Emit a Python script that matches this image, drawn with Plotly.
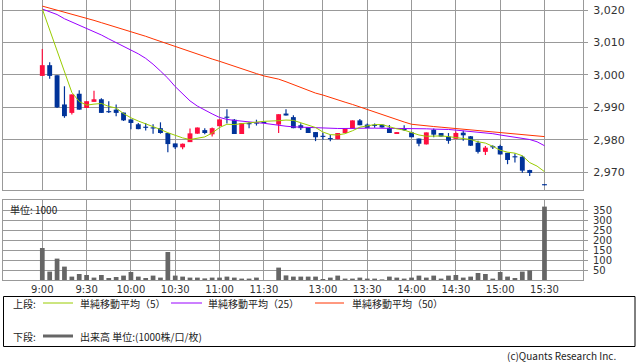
import plotly.graph_objects as go

# ---------------- data ----------------
times = ["9:00", "9:05", "9:10", "9:15", "9:20", "9:25", "9:30", "9:35", "9:40", "9:45",
         "9:50", "9:55", "10:00", "10:05", "10:10", "10:15", "10:20", "10:25", "10:30", "10:35",
         "10:40", "10:45", "10:50", "10:55", "11:00", "11:05", "11:10", "11:15", "11:20", "11:25",
         "11:30", "", "12:30", "12:35", "12:40", "12:45", "12:50", "12:55", "13:00", "13:05",
         "13:10", "13:15", "13:20", "13:25", "13:30", "13:35", "13:40", "13:45", "13:50", "13:55",
         "14:00", "14:05", "14:10", "14:15", "14:20", "14:25", "14:30", "14:35", "14:40", "14:45",
         "14:50", "14:55", "15:00", "15:05", "15:10", "15:15", "15:20", "15:25", "15:30"]

opens = [2999.7, 3003.0, 2999.9, 2990.9, 2988.3, 2994.2, 2989.8, 2991.7, 2992.5, 2988.8,
         2989.3, 2988.4, 2986.3, 2984.8, 2983.9, 2983.7, 2983.6, 2982.1, 2978.9, 2977.7,
         2979.3, 2981.9, 2983.0, 2981.7, 2984.2, 2987.1, 2986.2, 2981.8, 2985.0, 2985.2,
         2985.4, None, 2984.7, 2988.1, 2987.0, 2984.5, 2983.9, 2982.4, 2981.1, 2980.4,
         2980.2, 2982.1, 2983.5, 2986.0, 2984.7, 2984.5, 2984.7, 2983.7, 2981.8, 2983.2,
         2982.3, 2980.4, 2978.6, 2983.1, 2982.1, 2981.0, 2980.3, 2982.2, 2981.1, 2979.1,
         2976.3, 2977.9, 2978.1, 2976.0, 2974.7, 2974.8, 2970.7, None, 2966.0]
highs = [3008.0, 3003.9, 2999.9, 2996.5, 2994.0, 2995.3, 2991.9, 2995.1, 2992.8, 2991.9,
         2990.9, 2988.4, 2986.3, 2985.2, 2985.2, 2984.8, 2985.4, 2982.1, 2978.9, 2978.9,
         2983.5, 2983.8, 2983.6, 2983.8, 2986.3, 2989.4, 2986.4, 2985.2, 2985.5, 2986.2,
         2985.4, None, 2987.9, 2989.4, 2987.6, 2985.1, 2983.9, 2982.4, 2982.1, 2981.6,
         2982.1, 2983.5, 2986.0, 2986.4, 2985.0, 2985.0, 2984.7, 2984.6, 2982.4, 2984.5,
         2982.5, 2980.4, 2982.3, 2983.5, 2982.1, 2982.1, 2982.6, 2982.8, 2981.2, 2979.7,
         2978.1, 2978.3, 2978.5, 2976.0, 2975.8, 2975.1, 2970.8, None, 2966.0]
lows = [2999.7, 2998.8, 2989.8, 2986.8, 2987.8, 2989.3, 2989.8, 2991.7, 2988.3, 2988.3,
        2987.3, 2985.8, 2983.3, 2983.3, 2982.9, 2981.9, 2981.9, 2976.2, 2977.2, 2977.1,
        2979.3, 2981.9, 2981.7, 2981.0, 2984.2, 2985.0, 2981.8, 2981.8, 2983.6, 2984.4,
        2985.2, None, 2982.1, 2987.5, 2983.6, 2983.0, 2982.1, 2979.6, 2980.0, 2979.6,
        2980.2, 2982.1, 2983.5, 2984.5, 2983.7, 2983.7, 2983.7, 2982.1, 2981.8, 2982.7,
        2980.8, 2978.0, 2978.6, 2980.8, 2981.0, 2978.8, 2980.2, 2979.7, 2978.1, 2975.8,
        2975.3, 2977.2, 2975.5, 2972.5, 2973.0, 2969.9, 2968.9, None, 2966.0]
closes = [3003.0, 2999.7, 2990.0, 2987.3, 2994.0, 2989.3, 2991.9, 2992.5, 2988.3, 2988.5,
          2988.3, 2986.0, 2985.2, 2983.3, 2983.7, 2983.5, 2982.1, 2978.7, 2977.7, 2978.8,
          2982.0, 2983.8, 2982.1, 2983.6, 2986.3, 2986.8, 2981.8, 2985.2, 2984.8, 2985.0,
          2985.2, None, 2987.9, 2987.5, 2983.6, 2983.6, 2982.1, 2980.8, 2980.9, 2980.2,
          2982.1, 2983.5, 2986.0, 2984.5, 2983.7, 2984.3, 2983.8, 2982.1, 2982.4, 2983.0,
          2980.8, 2978.8, 2982.3, 2981.6, 2981.0, 2979.7, 2982.1, 2981.4, 2978.2, 2976.3,
          2977.6, 2977.7, 2975.5, 2973.8, 2974.6, 2970.5, 2969.8, None, 2966.0]

ma5 = [3020.3, 3013.8, 3007.6, 3000.4, 2994.6, 2991.8, 2990.7, 2991.0, 2991.2, 2990.3,
       2989.8, 2988.1, 2986.8, 2985.8, 2985.0, 2984.1, 2983.2, 2982.2, 2981.4, 2980.6,
       2980.1, 2980.4, 2980.9, 2982.1, 2983.8, 2984.8, 2984.7, 2985.0, 2985.3, 2985.5,
       2985.7, None, 2985.9, 2986.1, 2986.0, 2985.3, 2984.4, 2983.8, 2982.4, 2981.6,
       2981.5, 2981.9, 2982.8, 2983.9, 2984.3, 2984.7, 2984.7, 2984.0, 2983.4, 2983.0,
       2982.3, 2981.5, 2981.1, 2981.2, 2981.2, 2981.0, 2980.7, 2980.6, 2980.1, 2979.4,
       2979.0, 2978.0, 2976.8, 2976.2, 2975.9, 2975.1, 2973.0, 2971.9, 2970.2]
ma25 = [3020.3, 3019.5, 3018.6, 3017.3, 3016.3, 3015.4, 3014.5, 3013.3, 3012.3, 3011.1,
        3010.0, 3008.8, 3007.6, 3006.5, 3005.1, 3003.3, 3001.2, 2999.0, 2996.4, 2994.1,
        2992.0, 2990.4, 2989.1, 2988.0, 2986.9, 2986.3, 2986.0, 2985.7, 2985.5, 2985.3,
        2985.1, None, 2984.4, 2984.2, 2984.0, 2983.9, 2983.7, 2983.6, 2983.5, 2983.5,
        2983.5, 2983.5, 2983.6, 2983.6, 2983.6, 2983.6, 2983.6, 2983.6, 2983.6, 2983.6,
        2983.6, 2983.5, 2983.4, 2983.3, 2983.3, 2983.2, 2983.0, 2982.8, 2982.6, 2982.4,
        2982.1, 2981.9, 2981.5, 2981.2, 2980.9, 2980.6, 2980.1, 2979.4, 2978.2]
ma50 = [3021.2, 3020.6, 3020.0, 3019.4, 3018.7, 3018.0, 3017.4, 3016.8, 3016.1, 3015.4,
        3014.8, 3014.2, 3013.5, 3012.7, 3011.9, 3011.1, 3010.3, 3009.5, 3008.7, 3008.0,
        3007.3, 3006.5, 3005.7, 3004.9, 3004.2, 3003.4, 3002.7, 3001.9, 3001.2, 3000.4,
        2999.7, None, 2998.7, 2997.9, 2997.0, 2996.0, 2995.2, 2994.4, 2993.8, 2993.0,
        2992.3, 2991.6, 2990.9, 2990.1, 2989.4, 2988.6, 2987.8, 2987.0, 2986.2, 2985.5,
        2984.8, 2984.5, 2984.3, 2984.1, 2983.9, 2983.7, 2983.5, 2983.3, 2983.0, 2982.8,
        2982.6, 2982.4, 2982.2, 2982.0, 2981.8, 2981.6, 2981.4, 2981.2, 2981.0]

volumes = [160, 42, 107, 67, 17, 30, 25, 12, 25, 10,
           15, 22, 40, 17, 10, 22, 12, 140, 22, 17,
           12, 12, 8, 12, 12, 17, 12, 7, 7, 12,
           0, None, 62, 23, 17, 17, 17, 17, 5, 12,
           22, 7, 7, 12, 7, 7, 3, 17, 12, 7,
           12, 22, 12, 22, 7, 22, 25, 12, 17, 35,
           30, 7, 40, 17, 10, 42, 48, 0, 367]

tick_labels = ["9:00", "9:30", "10:00", "10:30", "11:00", "11:30",
               "13:00", "13:30", "14:00", "14:30", "15:00", "15:30"]
price_ticks = [2970, 2980, 2990, 3000, 3010, 3020]
volume_ticks = [50, 100, 150, 200, 250, 300, 350]

# ---------------- styles ----------------
UP = "#FF0F3F"
DOWN = "#003399"
C5 = "#99CC00"
C25 = "#9900FF"
C50 = "#FF3300"
GRID = "#999999"
VOLC = "#666666"
NUMF = "DejaVu Sans"
JPF = "Noto Sans CJK JP"

W, H = 638, 362
ML, MR, MT, MB = 3, 55, 0, 82
PW, PH = W - ML - MR, H - MT - MB


def px(x):
    return (x - ML) / PW


def py(y):
    return (PH - (y - MT)) / PH


xs = list(range(len(times)))
tickvals = [times.index(t) for t in tick_labels]

fig = go.Figure()

# candles (wicks then bodies)
cx, wb, wh, bb, bh, cc = [], [], [], [], [], []
for i in xs:
    o, h, l, c = opens[i], highs[i], lows[i], closes[i]
    if o is None:
        continue
    cx.append(i)
    wb.append(l)
    wh.append(max(h - l, 0.3))
    bb.append(min(o, c))
    bh.append(max(abs(c - o), 0.35))
    cc.append(UP if c > o else DOWN)

fig.add_trace(go.Bar(x=cx, y=wh, base=wb, width=0.16, marker=dict(color=cc, line=dict(width=0)),
                     xaxis="x", yaxis="y", showlegend=False, hoverinfo="skip"))
fig.add_trace(go.Bar(x=cx, y=bh, base=bb, width=0.66, marker=dict(color=cc, line=dict(width=0)),
                     xaxis="x", yaxis="y", showlegend=False, hoverinfo="skip"))

for vals, col in [(ma50, C50), (ma25, C25), (ma5, C5)]:
    fig.add_trace(go.Scatter(x=xs, y=vals, mode="lines", line=dict(color=col, width=1),
                             connectgaps=True, xaxis="x", yaxis="y", showlegend=False,
                             hoverinfo="skip"))

fig.add_trace(go.Bar(x=xs, y=volumes, width=0.64, marker=dict(color=VOLC, line=dict(width=0)),
                     xaxis="x2", yaxis="y2", showlegend=False, hoverinfo="skip"))

xr = [(ML - 42.3) / 7.385, (W - MR - 42.3) / 7.385]
common_x = dict(range=xr, tickmode="array", tickvals=tickvals, ticktext=tick_labels,
                showgrid=True, gridcolor=GRID, gridwidth=1, zeroline=False,
                showline=True, linecolor=GRID, linewidth=1, mirror=True, ticks="",
                fixedrange=True, automargin=False)

fig.update_layout(
    width=W, height=H,
    margin=dict(l=ML, r=MR, t=MT, b=MB, autoexpand=False),
    paper_bgcolor="white", plot_bgcolor="white",
    barmode="overlay",
    showlegend=False,
    xaxis=dict(domain=[0, 1], anchor="y", showticklabels=False, **common_x),
    xaxis2=dict(domain=[0, 1], anchor="y2", showticklabels=True,
                tickfont=dict(family=NUMF, size=10, color="#333333"), **common_x),
    yaxis=dict(domain=[py(190), 1], range=[2964.55, 3023.08], side="right",
               tickmode="array", tickvals=price_ticks, tickformat=",",
               tickfont=dict(family=NUMF, size=11, color="#333333"),
               ticks="outside", ticklen=4, tickcolor=GRID, ticklabelstandoff=3,
               showgrid=True, gridcolor=GRID, zeroline=False,
               showline=True, linecolor=GRID, mirror=True, fixedrange=True,
               automargin=False),
    yaxis2=dict(domain=[0, py(200)], range=[0, 400], side="right",
                tickmode="array", tickvals=volume_ticks,
                tickfont=dict(family=NUMF, size=10, color="#333333"),
                ticks="outside", ticklen=4, tickcolor=GRID, ticklabelstandoff=3,
                showgrid=True, gridcolor=GRID, zeroline=False,
                showline=True, linecolor=GRID, mirror=True, fixedrange=True,
                automargin=False),
)

shapes = []
annots = []
# legend box
shapes.append(dict(type="rect", xref="paper", yref="paper", x0=px(3.5), x1=px(635), y0=py(296.5),
                   y1=py(346.5), line=dict(color="#000000", width=1)))
for (x0, x1, col) in [(43, 73, C5), (171, 202, C25), (315, 344, C50)]:
    shapes.append(dict(type="line", xref="paper", yref="paper", x0=px(x0), x1=px(x1),
                       y0=py(303), y1=py(303), line=dict(color=col, width=1)))
shapes.append(dict(type="line", xref="paper", yref="paper", x0=px(43), x1=px(73),
                   y0=py(336), y1=py(336), line=dict(color=VOLC, width=3)))


def note(x, y, text, size=10, anchor="left", family=JPF, color="#222222"):
    annots.append(dict(xref="paper", yref="paper", x=px(x), y=py(y), text=text,
                       showarrow=False, xanchor=anchor, yanchor="middle",
                       font=dict(family=family, size=size, color=color)))


note(11, 303, "上段:")
note(78, 303, "単純移動平均（5）")
note(206, 303, "単純移動平均（25）")
note(350, 303, "単純移動平均（50）")
note(11, 336, "下段:")
note(78, 336, "出来高 単位:(1000株/口/枚)")
note(8, 209, "単位: 1000")
note(618, 355, "(c)Quants Research Inc.", size=10, anchor="right")

fig.update_layout(shapes=shapes, annotations=annots)

fig.write_html("out.html", post_script="document.body.style.margin='0px';",
               config={"displayModeBar": False, "staticPlot": True})
